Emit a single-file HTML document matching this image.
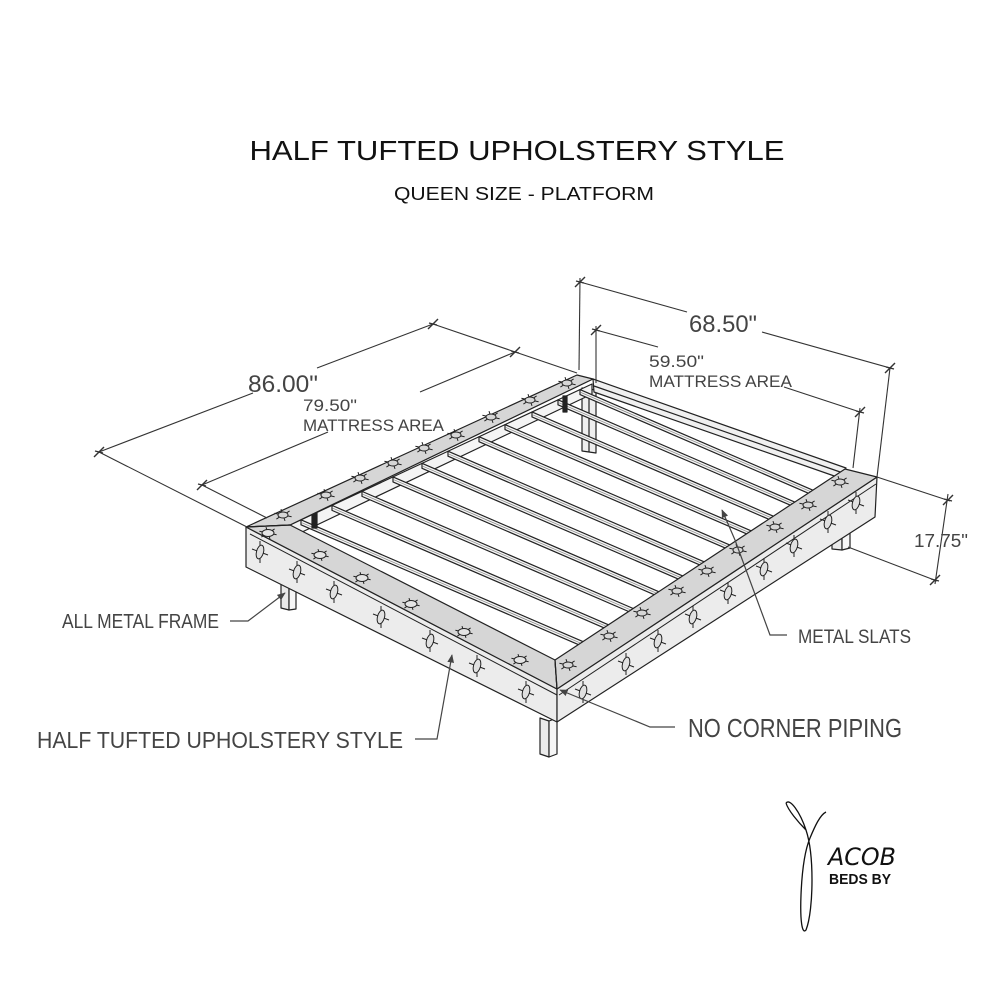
<!DOCTYPE html>
<html><head><meta charset="utf-8"><style>
html,body{margin:0;padding:0;background:#fff}
svg{display:block}
text{font-family:"Liberation Sans","DejaVu Sans",sans-serif}
</style></head><body>
<svg id="s" width="1000" height="1000" viewBox="0 0 1000 1000" xmlns="http://www.w3.org/2000/svg">
<defs>
<marker id="ar" viewBox="0 0 10 10" refX="9" refY="5" markerWidth="7" markerHeight="7" orient="auto-start-reverse"><path d="M0,1 L10,5 L0,9 z" fill="#444"/></marker>
</defs>
<rect width="1000" height="1000" fill="#fff"/>
<text x="517" y="160" font-size="28" text-anchor="middle" fill="#111" textLength="535" lengthAdjust="spacingAndGlyphs">HALF TUFTED UPHOLSTERY STYLE</text>
<text x="524" y="200" font-size="18" text-anchor="middle" fill="#111" textLength="260" lengthAdjust="spacingAndGlyphs">QUEEN SIZE - PLATFORM</text>

<g id="bed" stroke="#222" stroke-width="1.2" stroke-linejoin="round">
<polygon points="582,388 596,390 596,453 582,451" fill="#efefef"/>
<line x1="589" y1="389" x2="589" y2="452"/>
<polygon points="593,379 846,468 840,478 594,392" fill="#f0f0f0"/>
<line x1="594" y1="386" x2="843" y2="473"/>
<polygon points="290,525 592,384 592,394 300,533" fill="#f4f4f4"/>
<g id="slats"></g>
<rect x="312" y="513" width="5" height="15" fill="#222"/>
<rect x="563" y="396" width="4" height="16" fill="#222"/>
<polygon points="281,570 289,572 289,610 281,608" fill="#eaeaea"/>
<polygon points="289,572 296,570 296,609 289,610" fill="#f6f6f6"/>
<polygon points="832,520 842,518 842,550 832,549" fill="#eaeaea"/>
<polygon points="842,518 850,520 850,548 842,550" fill="#f6f6f6"/>
<polygon points="540,718 549,721 549,757 540,754" fill="#eaeaea"/>
<polygon points="549,721 557,718 557,754 549,757" fill="#f6f6f6"/>
<polygon points="246,527 557,689 557,722 246,567" fill="#ececec"/>
<polygon points="557,689 877,477 875,517 557,722" fill="#ececec"/>
<line x1="250" y1="534" x2="557" y2="695" stroke-width="1"/>
<line x1="559" y1="695" x2="876" y2="484" stroke-width="1"/>
<polygon points="246,527 577,375 593,379 290,525" fill="#d6d6d6"/>
<polygon points="246,527 290,525 555,660 557,689" fill="#d6d6d6"/>
<polygon points="557,689 555,660 845,469 877,477" fill="#d6d6d6"/>
<line x1="246" y1="527" x2="290" y2="525"/>
<line x1="555" y1="660" x2="557" y2="689"/>
</g>
<g id="btn" stroke="#222" stroke-width="1"></g>

<g stroke="#333" stroke-width="1.1" fill="none">
<line x1="99" y1="452" x2="253" y2="393"/><line x1="317" y1="368" x2="433" y2="324"/>
<line x1="99" y1="452" x2="247" y2="527"/>
<line x1="433" y1="324" x2="577" y2="373"/>
<line x1="202" y1="485" x2="328" y2="432"/><line x1="420" y1="392" x2="515" y2="352"/>
<line x1="202" y1="485" x2="267" y2="518"/>
<line x1="580" y1="282" x2="687" y2="312"/><line x1="762" y1="332" x2="890" y2="368"/>
<line x1="580" y1="278" x2="579" y2="370"/>
<line x1="890" y1="368" x2="877" y2="477"/>
<line x1="596" y1="330" x2="658" y2="347"/><line x1="784" y1="387" x2="860" y2="412"/>
<line x1="596" y1="326" x2="596" y2="383"/>
<line x1="860" y1="408" x2="853" y2="468"/>
<line x1="948" y1="494" x2="935" y2="584"/>
<line x1="877" y1="477" x2="950" y2="501"/>
<line x1="848" y1="547" x2="937" y2="581"/>
<g id="ticks" stroke-width="1.4"></g>
</g>
<text x="248" y="392" font-size="24" fill="#444" textLength="70" lengthAdjust="spacingAndGlyphs">86.00"</text>
<text x="303" y="411" font-size="17" fill="#444" textLength="54" lengthAdjust="spacingAndGlyphs">79.50"</text>
<text x="303" y="431" font-size="17" fill="#444" textLength="141" lengthAdjust="spacingAndGlyphs">MATTRESS AREA</text>
<text x="689" y="332" font-size="24" fill="#444" textLength="68" lengthAdjust="spacingAndGlyphs">68.50"</text>
<text x="649" y="367" font-size="17" fill="#444" textLength="55" lengthAdjust="spacingAndGlyphs">59.50"</text>
<text x="649" y="387" font-size="17" fill="#444" textLength="143" lengthAdjust="spacingAndGlyphs">MATTRESS AREA</text>
<text x="914" y="547" font-size="18" fill="#444" textLength="54" lengthAdjust="spacingAndGlyphs">17.75"</text>

<g stroke="#444" stroke-width="1.2" fill="none">
<polyline points="230,621 248,621 285,593" marker-end="url(#ar)"/>
<polyline points="415,739 437,739 452,655" marker-end="url(#ar)"/>
<polyline points="675,727 650,727 560,690" marker-end="url(#ar)"/>
<polyline points="787,635 770,635 735,540 722,510" marker-end="url(#ar)"/>
</g>
<text x="62" y="628" font-size="20" fill="#444" textLength="157" lengthAdjust="spacingAndGlyphs">ALL METAL FRAME</text>
<text x="37" y="748" font-size="23" fill="#444" textLength="366" lengthAdjust="spacingAndGlyphs">HALF TUFTED UPHOLSTERY STYLE</text>
<text x="688" y="737" font-size="26" fill="#444" textLength="214" lengthAdjust="spacingAndGlyphs">NO CORNER PIPING</text>
<text x="798" y="643" font-size="19" fill="#444" textLength="113" lengthAdjust="spacingAndGlyphs">METAL SLATS</text>

<path d="M786,803 C790,798 800,812 806,830 C810,842 812,860 812,880 C812,900 810,920 806,930 C802,935 800,920 801,895 C802,870 805,850 810,838 C815,826 820,815 826,812 M806,830 C798,822 788,810 786,803" fill="none" stroke="#111" stroke-width="1.3"/>
<text x="828" y="865" font-size="24" fill="#111" font-style="italic" textLength="68" lengthAdjust="spacingAndGlyphs" style="font-family:'DejaVu Sans',sans-serif;font-weight:200">ACOB</text>
<text x="829" y="884" font-size="15" font-weight="bold" fill="#111" textLength="62" lengthAdjust="spacingAndGlyphs">BEDS BY</text>
</svg>
<script>
var NS="http://www.w3.org/2000/svg";
function el(p,t,a){var e=document.createElementNS(NS,t);for(var k in a)e.setAttribute(k,a[k]);p.appendChild(e);return e;}
var sl=document.getElementById("slats");
var xs=[301,332,362,393,422,448,479,505,532,558,580];
var dx=308,dy=133,R0=[555,660],R1=[845,469];
xs.forEach(function(x){
 var y=525-0.467*(x-290);
 var ax=dx, bx=-(R1[0]-R0[0]), cx=R0[0]-x;
 var ay=dy, by=-(R1[1]-R0[1]), cy=R0[1]-y;
 var det=ax*by-bx*ay; var s=(cx*by-bx*cy)/det;
 var ex=x+s*dx, ey=y+s*dy;
 el(sl,"polygon",{points:x+","+y+" "+ex+","+ey+" "+ex+","+(ey+5)+" "+x+","+(y+5),fill:"#f3f3f3"});
 el(sl,"line",{x1:x,y1:y+2.5,x2:ex,y2:ey+2.5,"stroke-width":"0.6",stroke:"#777"});
});
var b=document.getElementById("btn");
function topBtn(x,y,disk){
 for(var i=0;i<6;i++){var a=i*Math.PI/3+0.3;el(b,"line",{x1:x+Math.cos(a)*4,y1:y+Math.sin(a)*2.5,x2:x+Math.cos(a)*9,y2:y+Math.sin(a)*6});}
 el(b,"ellipse",{cx:x,cy:y,rx:disk?6:5,ry:disk?3.5:3,fill:disk?"#e4e4e4":"#d6d6d6"});
}
function sideBtn(x,y){
 el(b,"line",{x1:x,y1:y-11,x2:x,y2:y+11});el(b,"line",{x1:x-8,y1:y-3,x2:x+8,y2:y+3});
 el(b,"ellipse",{cx:x,cy:y,rx:3.5,ry:7,fill:"#e0e0e0",transform:"rotate(15 "+x+" "+y+")"});
}
[[283,515],[326,495],[360,478],[393,463],[424,448],[456,435],[491,417],[530,400],[567,383]].forEach(function(p){topBtn(p[0],p[1],false);});
[[268,533],[320,555],[362,578],[411,604],[464,632],[520,660]].forEach(function(p){topBtn(p[0],p[1],true);});
[[260,552],[297,572],[334,592],[381,617],[430,641],[477,666],[526,692]].forEach(function(p){sideBtn(p[0],p[1]);});
[[568,665],[609,636],[642,613],[677,591],[707,571],[738,550],[775,527],[808,505],[840,482]].forEach(function(p){topBtn(p[0],p[1],false);});
[[583,692],[626,664],[658,641],[693,617],[728,593],[764,569],[794,546],[828,522],[856,503]].forEach(function(p){sideBtn(p[0],p[1]);});
var tk=document.getElementById("ticks");
[[99,452],[433,324],[202,485],[515,352],[580,282],[890,368],[596,330],[860,412],[948,500],[935,580]].forEach(function(p){
 el(tk,"line",{x1:p[0]-5,y1:p[1]+5,x2:p[0]+5,y2:p[1]-5});
 el(tk,"line",{x1:p[0]-4,y1:p[1]-1,x2:p[0]+4,y2:p[1]+1});
});
</script>
</body></html>
